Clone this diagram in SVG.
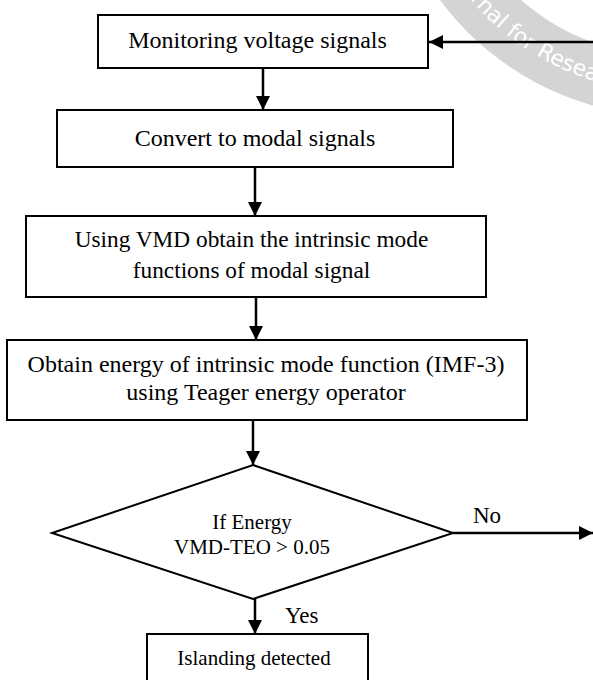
<svg xmlns="http://www.w3.org/2000/svg" width="593" height="680" viewBox="0 0 593 680">
<style>
.box{fill:#fff;stroke:#000;stroke-width:2}
.t{font-family:"Liberation Serif","Times New Roman",serif;font-size:24px;text-anchor:middle;fill:#000}
.t3{font-family:"Liberation Serif","Times New Roman",serif;font-size:23.3px;text-anchor:middle;fill:#000}
.s{font-family:"Liberation Serif","Times New Roman",serif;font-size:21px;text-anchor:middle;fill:#000}
.lbl{font-family:"Liberation Serif","Times New Roman",serif;font-size:23px;fill:#000}
.c{stroke:#000;stroke-width:2.5;fill:none;marker-end:url(#ah)}
.wm{font-family:"DejaVu Sans",sans-serif;font-size:22px;fill:#fff}
</style>
<defs>
<marker id="ah" viewBox="0 0 14 14" refX="14" refY="7" markerWidth="14" markerHeight="14" markerUnits="userSpaceOnUse" orient="auto">
<path d="M0,0 L14,7 L0,14 z" fill="#000"/>
</marker>
<path id="arc" d="M408,-170 A262,262 0 0 0 932,-170"/>
</defs>
<rect width="593" height="680" fill="#fff"/>
<g id="watermark">
<path d="M384,-170 A286,286 0 0 0 956,-170 L896,-170 A226,226 0 0 1 444,-170 Z" fill="#d4d4d4"/>
<text class="wm"><textPath href="#arc" startOffset="150">Journal for Research</textPath></text>
</g>
<g id="connectors">
<line class="c" x1="593" y1="42" x2="429" y2="42"/>
<line class="c" x1="263" y1="68" x2="263" y2="110"/>
<line class="c" x1="255" y1="167" x2="255" y2="216"/>
<line class="c" x1="256" y1="297" x2="256" y2="340"/>
<line class="c" x1="253" y1="420" x2="253" y2="465"/>
<line class="c" x1="453" y1="533" x2="593" y2="533"/>
<line class="c" x1="255" y1="599" x2="255" y2="634"/>
<text class="lbl" x="473" y="523">No</text>
<text class="lbl" x="285" y="623">Yes</text>
</g>
<g id="n1">
<rect class="box" x="98" y="15" width="330" height="53"/>
<text class="t" x="257.5" y="48">Monitoring voltage signals</text>
</g>
<g id="n2">
<rect class="box" x="57" y="110" width="396" height="57"/>
<text class="t" x="255" y="146">Convert to modal signals</text>
</g>
<g id="n3">
<rect class="box" x="26" y="216" width="460" height="81"/>
<text class="t3" x="251.5" y="247">Using VMD obtain the intrinsic mode</text>
<text class="t3" x="251.5" y="278">functions of modal signal</text>
</g>
<g id="n4">
<rect class="box" x="7" y="340" width="520" height="80"/>
<text class="t" x="266" y="372">Obtain energy of intrinsic mode function (IMF-3)</text>
<text class="t" x="266" y="400">using Teager energy operator</text>
</g>
<g id="n5">
<polygon class="box" points="253,465 453,533 253,599 52,533"/>
<text class="s" x="252" y="529">If Energy</text>
<text class="s" x="252" y="554">VMD-TEO &gt; 0.05</text>
</g>
<g id="n6">
<rect class="box" x="147" y="634" width="221" height="60"/>
<text class="s" x="254" y="665">Islanding detected</text>
</g>
</svg>
